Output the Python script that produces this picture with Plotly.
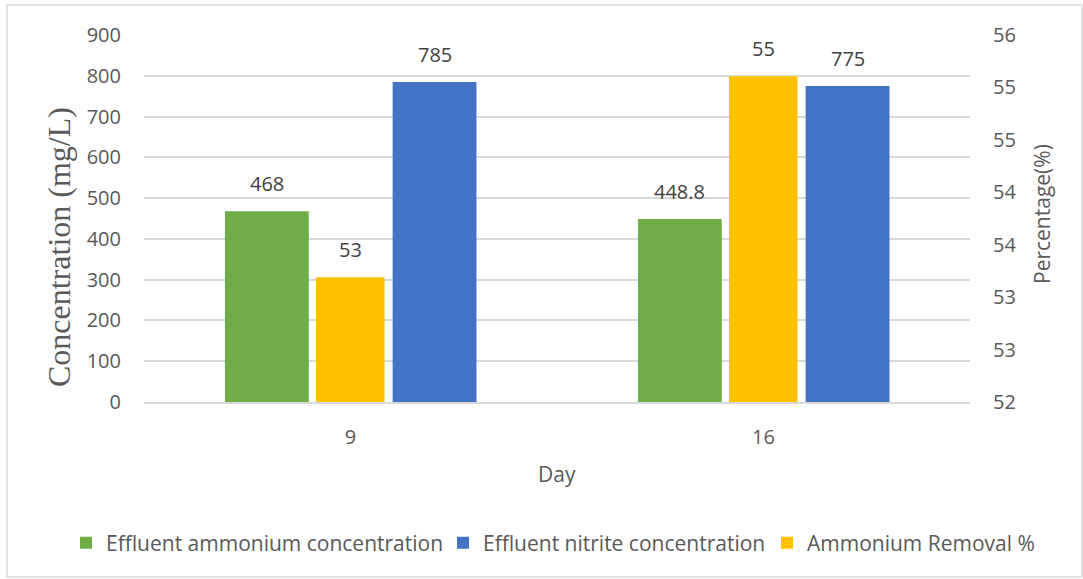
import numpy as np
import plotly.graph_objects as go

# ---------------- data ----------------
days = ["9", "16"]
ammonium = [468, 448.8]
nitrite = [785, 775]
removal = [53.36, 55.55]
ammonium_labels = ["468", "448.8"]
nitrite_labels = ["785", "775"]
removal_labels = ["53", "55"]
left_ticks = [0, 100, 200, 300, 400, 500, 600, 700, 800, 900]
right_tick_labels = ["52", "53", "53", "54", "54", "55", "55", "56"]
right_range = [52, 56]
series_names = ["Effluent ammonium concentration", "Effluent nitrite concentration", "Ammonium Removal %"]

# ---------------- style ----------------
GREEN, BLUE, YELLOW = "#70AD47", "#4472C4", "#FFC000"
GRID = "#D9D9D9"
TXT = "#595959"
LBL = "#404040"
FONT = "Open Sans"

W, H = 1083, 579
P_L, P_R, P_T, P_B = 144, 970, 35, 402  # plot area in page pixels
ML, MT = P_L, P_T
MR, MB = W - P_R, H - P_B
PW, PH = P_R - P_L, P_B - P_T

def px_x(p):
    return (p - P_L) / PW

def px_y(p):
    return (P_B - p) / PH

x = list(range(len(days)))
g_off, g_w = -0.304, 0.203
y_off, y_w = -0.0836, 0.166
b_off, b_w = 0.102, 0.203

fig = go.Figure()
fig.add_trace(go.Bar(x=x, y=ammonium, name=series_names[0], legend="legend",
                     marker=dict(color=GREEN, line=dict(width=0)),
                     offset=g_off, width=g_w))
fig.add_trace(go.Bar(x=x, y=nitrite, name=series_names[1], legend="legend2",
                     marker=dict(color=BLUE, line=dict(width=0)),
                     offset=b_off, width=b_w))
fig.add_trace(go.Bar(x=x, y=removal, name=series_names[2], yaxis="y2", legend="legend3",
                     marker=dict(color=YELLOW, line=dict(width=0)),
                     offset=y_off, width=y_w))

annotations = []
for i in x:
    annotations.append(dict(x=i + g_off + g_w / 2, y=ammonium[i], xref="x", yref="y",
                            text=ammonium_labels[i], showarrow=False, yanchor="bottom", yshift=12,
                            font=dict(family=FONT, size=20, color=LBL)))
    annotations.append(dict(x=i + b_off + b_w / 2, y=nitrite[i], xref="x", yref="y",
                            text=nitrite_labels[i], showarrow=False, yanchor="bottom", yshift=12,
                            font=dict(family=FONT, size=20, color=LBL)))
    annotations.append(dict(x=i + y_off + y_w / 2, y=removal[i], xref="x", yref="y2",
                            text=removal_labels[i], showarrow=False, yanchor="bottom", yshift=12,
                            font=dict(family=FONT, size=20, color=LBL)))

annotations.append(dict(x=px_x(59), y=px_y(247), xref="paper", yref="paper",
                        text="Concentration (mg/L)", textangle=-90, showarrow=False,
                        xanchor="center", yanchor="middle",
                        font=dict(family="Liberation Serif", size=32, color=TXT)))
annotations.append(dict(x=px_x(1042), y=px_y(214), xref="paper", yref="paper",
                        text="Percentage(%)", textangle=-90, showarrow=False,
                        xanchor="center", yanchor="middle",
                        font=dict(family=FONT, size=21, color=TXT)))
annotations.append(dict(x=0.5, y=px_y(474), xref="paper", yref="paper",
                        text="Day", showarrow=False, xanchor="center", yanchor="middle",
                        font=dict(family=FONT, size=21, color=TXT)))

right_vals = list(np.linspace(right_range[0], right_range[1], len(right_tick_labels)))

def legend_at(symbol_center_px):
    return dict(orientation="h", xref="container", yref="container",
                x=(symbol_center_px - 20) / W, xanchor="left",
                y=(H - 543) / H, yanchor="middle",
                font=dict(size=21, color=TXT), bgcolor="rgba(0,0,0,0)", borderwidth=0)

fig.update_layout(
    width=W, height=H,
    margin=dict(l=ML, r=MR, t=MT, b=MB, autoexpand=False),
    paper_bgcolor="white", plot_bgcolor="white",
    barmode="overlay",
    font=dict(family=FONT, size=20, color=TXT),
    xaxis=dict(range=[-0.5, len(days) - 0.5], tickvals=x, ticktext=days,
               showgrid=False, zeroline=False, showline=True, linecolor=GRID, linewidth=1.5,
               ticks="", ticklabelstandoff=16, tickfont=dict(size=20, color=TXT)),
    yaxis=dict(range=[0, 900], tickvals=left_ticks, showgrid=True, gridcolor=GRID, gridwidth=1.5,
               zeroline=False, showline=False, ticks="", ticklabelstandoff=22,
               tickfont=dict(size=20, color=TXT)),
    yaxis2=dict(range=right_range, overlaying="y", side="right", tickvals=right_vals,
                ticktext=right_tick_labels, showgrid=False, zeroline=False, showline=False,
                ticks="", ticklabelstandoff=22, tickfont=dict(size=20, color=TXT)),
    legend=legend_at(86),
    legend2=legend_at(463),
    legend3=legend_at(787),
    annotations=annotations,
    shapes=[dict(type="rect", xref="paper", yref="paper",
                 x0=px_x(7), x1=px_x(1082), y0=px_y(577), y1=px_y(5),
                 line=dict(color=GRID, width=1.5), layer="below")],
    showlegend=True,
)

fig.write_html("out.html", config={"displayModeBar": False},
               post_script="document.body.style.margin='0';")
